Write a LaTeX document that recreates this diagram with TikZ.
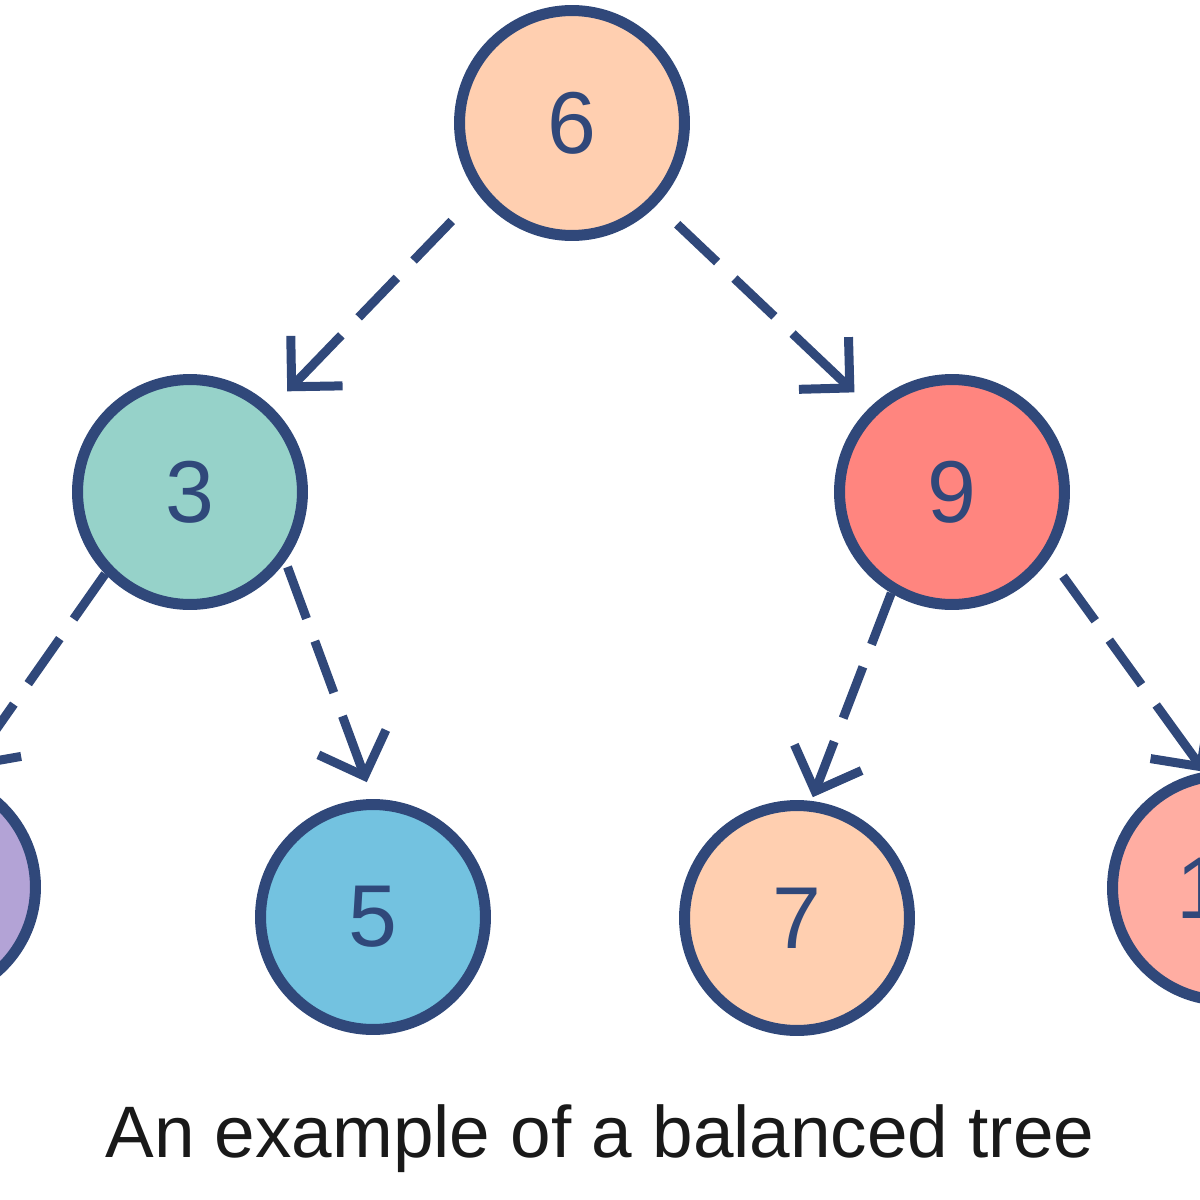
\documentclass[tikz,border=0pt]{standalone}
\usepackage{fontspec}
\setmainfont{Liberation Sans}
\usetikzlibrary{arrows.meta}
\definecolor{ink}{HTML}{30487A}
\definecolor{peach}{HTML}{FFCFB0}
\definecolor{teal}{HTML}{96D2C9}
\definecolor{salmon}{HTML}{FF857F}
\definecolor{sky}{HTML}{73C2E0}
\definecolor{lavender}{HTML}{B3A3D6}
\definecolor{rose}{HTML}{FFADA2}
\begin{document}
\begin{tikzpicture}[x=0.02cm,y=-0.02cm,
  treenode/.style={circle, draw=ink, line width=0.22cm, minimum size=4.5cm,
    inner sep=0pt, text=ink, font=\fontsize{50}{50}\selectfont},
  link/.style={draw=ink, line width=0.18cm,
    dash pattern=on 1.1cm off 0.48cm on 1.1cm off 0.5cm on 30cm,
    -{Straight Barb[length=0.72cm,width=1.44cm,line join=miter,line cap=butt]}}]
\clip (0,0) rectangle (1200,1200);
\fill[white] (0,0) rectangle (1200,1200);

% tree nodes
\node[treenode, fill=peach]    (n6)  at (572,123)  {6};
\node[treenode, fill=teal]     (n3)  at (190,492)  {3};
\node[treenode, fill=salmon]   (n9)  at (952,492)  {9};
\node[treenode, fill=lavender] (n1)  at (-77,887)  {};
\node[treenode, fill=sky]      (n5)  at (373,917)  {5};
\node[treenode, fill=peach]    (n7)  at (797,918)  {7};
\node[treenode, fill=rose]     (n10) at (1225,888) {10};

% parent -> child links
\draw[link, shorten <=0.75cm, shorten >=0.44cm] (n6.217) -- (n3.46);
\draw[link, shorten <=0.56cm, shorten >=0.43cm] (n6.316) -- (n9.134);
\draw[link, shorten >=0.14cm] (n3.224) -- (n1.70);
\draw[link, shorten <=0.12cm, shorten >=0.36cm] (n3.324) -- (n5.90);
\draw[link, shorten >=0.08cm] (n9.239) -- (n7.83);
\draw[link, shorten <=0.45cm] (n9.326) -- (n10.100);

% caption
\node[anchor=base, text=black!90, font=\fontsize{41.5}{41.5}\selectfont]
  (caption) at (600,1157) {An example of a balanced tree};
\end{tikzpicture}
\end{document}
